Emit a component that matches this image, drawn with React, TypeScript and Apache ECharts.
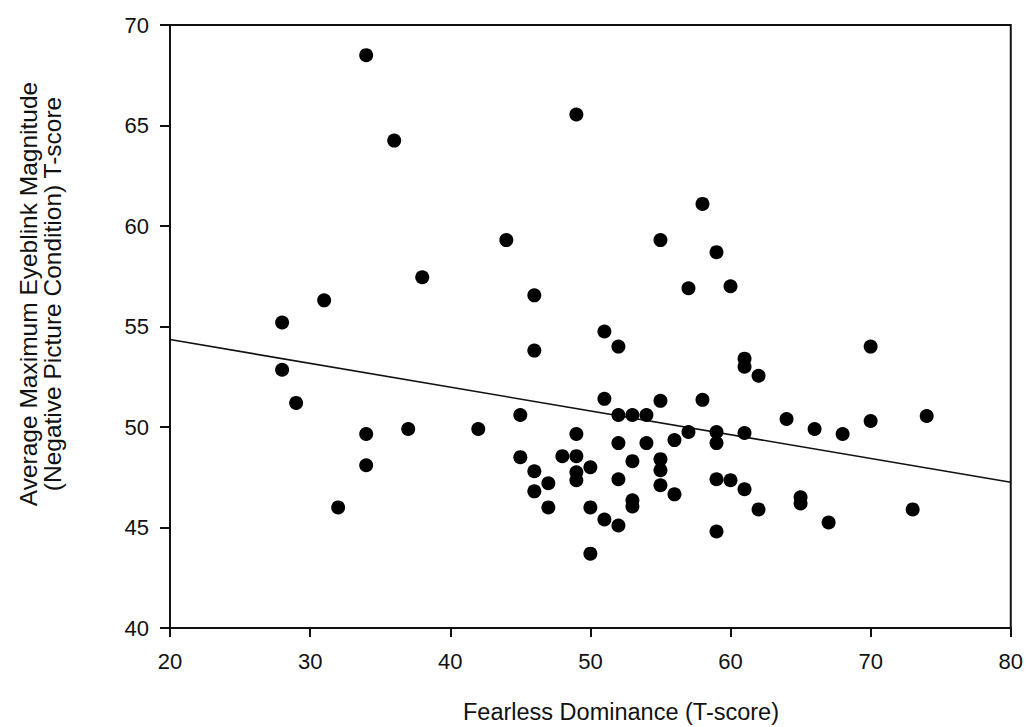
import React, { useEffect, useRef } from "react";
import * as echarts from "echarts";

const xTicks = [20, 30, 40, 50, 60, 70, 80];
const yTicks = [40, 45, 50, 55, 60, 65, 70];

const fdScores = [
  28, 28, 29, 31, 32, 34, 34, 34, 36, 37, 38, 42, 44, 45, 45, 46, 46, 46, 46, 47,
  47, 48, 49, 49, 49, 49, 49, 50, 50, 50, 51, 51, 51, 52, 52, 52, 52, 52, 53, 53,
  53, 53, 54, 54, 55, 55, 55, 55, 55, 56, 56, 57, 57, 58, 58, 59, 59, 59, 59, 59,
  60, 60, 61, 61, 61, 61, 62, 62, 64, 65, 65, 66, 67, 68, 70, 70, 73, 74,
];

const blinkScores = [
  55.2, 52.85, 51.2, 56.3, 46.0, 68.5, 49.65, 48.1, 64.25, 49.9, 57.45, 49.9, 59.3, 50.6, 48.5, 56.55, 53.8, 47.8, 46.8, 47.2,
  46.0, 48.55, 65.55, 49.65, 48.55, 47.75, 47.35, 48.0, 46.0, 43.7, 54.75, 51.4, 45.4, 54.0, 50.6, 49.2, 47.4, 45.1, 50.6, 48.3,
  46.35, 46.05, 50.6, 49.2, 59.3, 51.3, 48.4, 47.85, 47.1, 49.35, 46.65, 56.9, 49.75, 61.1, 51.35, 58.7, 49.75, 49.2, 47.4, 44.8,
  57.0, 47.35, 53.4, 53.0, 49.7, 46.9, 52.55, 45.9, 50.4, 46.5, 46.2, 49.9, 45.25, 49.65, 54.0, 50.3, 45.9, 50.55,
];

const fitX = [20, 80];
const fitY = [54.35, 47.25];

const xTitle = "Fearless Dominance (T-score)";
const yTitleLines = ["Average Maximum Eyeblink Magnitude", "(Negative Picture Condition) T-score"];

const FONT = "'Liberation Sans', Arial, Helvetica, sans-serif";

export default function App() {
  const ref = useRef<HTMLDivElement>(null);

  useEffect(() => {
    if (!ref.current) return;
    const chart = echarts.init(ref.current, null, { renderer: "svg" });
    const points = fdScores.map((x, i) => [x, blinkScores[i]]);
    const fit = fitX.map((x, i) => [x, fitY[i]]);

    chart.setOption({
      animation: false,
      backgroundColor: "#ffffff",
      grid: {
        left: 170,
        top: 25,
        width: 842,
        height: 603,
        show: true,
        borderColor: "#111",
        borderWidth: 2,
        backgroundColor: "transparent",
      },
      xAxis: {
        type: "value",
        min: xTicks[0],
        max: xTicks[xTicks.length - 1],
        interval: 10,
        splitLine: { show: false },
        axisLine: { show: true, onZero: false, lineStyle: { color: "#111", width: 2 } },
        axisTick: { show: true, inside: false, length: 9, lineStyle: { color: "#111", width: 2 } },
        axisLabel: { color: "#111", fontSize: 22, fontFamily: FONT, margin: 22 },
      },
      yAxis: {
        type: "value",
        min: yTicks[0],
        max: yTicks[yTicks.length - 1],
        interval: 5,
        splitLine: { show: false },
        axisLine: { show: true, onZero: false, lineStyle: { color: "#111", width: 2 } },
        axisTick: { show: true, inside: false, length: 10, lineStyle: { color: "#111", width: 2 } },
        axisLabel: { color: "#111", fontSize: 22, fontFamily: FONT, margin: 21 },
      },
      series: [
        {
          type: "line",
          data: fit,
          symbol: "none",
          lineStyle: { color: "#111", width: 1.6 },
          silent: true,
          z: 2,
        },
        {
          type: "scatter",
          data: points,
          symbol: "circle",
          symbolSize: 14,
          itemStyle: { color: "#000", opacity: 1 },
          z: 3,
        },
      ],
      graphic: [
        {
          type: "text",
          x: 621,
          y: 712,
          style: {
            text: xTitle,
            fontSize: 23.5,
            fontFamily: FONT,
            fill: "#111",
            textAlign: "center",
            textVerticalAlign: "middle",
          },
        },
        {
          type: "text",
          x: 40,
          y: 294,
          rotation: Math.PI / 2,
          style: {
            text: yTitleLines.join("\n"),
            fontSize: 24.5,
            lineHeight: 24,
            fontFamily: FONT,
            fill: "#111",
            textAlign: "center",
            textVerticalAlign: "middle",
          },
        },
      ],
    });

    return () => chart.dispose();
  }, []);

  return (
    <div
      ref={ref}
      style={{ position: "absolute", left: 0, top: 0, width: 1026, height: 727, background: "#fff" }}
    />
  );
}
